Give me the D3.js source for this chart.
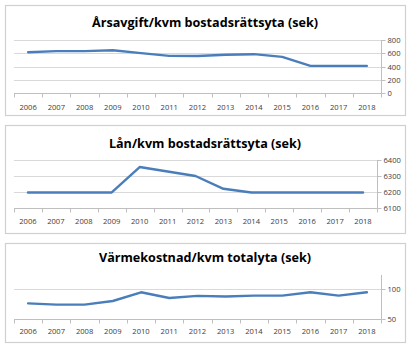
<!DOCTYPE html>
<html><head><meta charset="utf-8">
<script src="https://cdn.jsdelivr.net/npm/d3@7"></script>
<style>body{margin:0;background:#fff}svg{display:block}</style>
</head><body>
<svg id="c" width="414" height="351"></svg>
<script>
const years = ["2006","2007","2008","2009","2010","2011","2012","2013","2014","2015","2016","2017","2018"];
const titles = ["Årsavgift/kvm bostadsrättsyta (sek)", "Lån/kvm bostadsrättsyta (sek)", "Värmekostnad/kvm totalyta (sek)"];
const arsavgift = [616, 632, 632, 646, 602, 560, 558, 578, 586, 546, 410, 410, 410];
const lan = [6197, 6197, 6197, 6197, 6356, 6328, 6300, 6220, 6197, 6197, 6197, 6197, 6197];
const varme = [76, 74, 74, 80, 94.5, 85, 88.5, 87.5, 89, 89, 94.5, 89, 94.5];
const ticks1 = [0, 200, 400, 600, 800];
const ticks2 = [6100, 6200, 6300, 6400];
const ticks3 = [50, 100];

const svg = d3.select("#c");
const font = "'Open Sans', 'DejaVu Sans', sans-serif";

const configs = [
  {title: titles[0], data: arsavgift, ticks: ticks1, dom: [0, 800], box: [5, 5, 405, 115], px: [14, 381], py: [93, 40], top: 40, titleY: 22, labY: 107},
  {title: titles[1], data: lan, ticks: ticks2, dom: [6100, 6400], box: [5, 125, 405, 233], px: [14, 377], py: [208, 160], top: 160, titleY: 143, labY: 221},
  {title: titles[2], data: varme, ticks: ticks3, dom: [50, 100], box: [5, 243, 405, 342], px: [14, 381], py: [319, 289], top: 275, titleY: 257, labY: 331}
];

configs.forEach(cfg => {
  const g = svg.append("g");
  const [bx0, by0, bx1, by1] = cfg.box;
  g.append("rect").attr("x", bx0 + 0.5).attr("y", by0 + 0.5)
    .attr("width", bx1 - bx0).attr("height", by1 - by0)
    .attr("fill", "#fff").attr("stroke", "#d0d0d0").attr("stroke-width", 1.2);

  g.append("text").attr("x", (bx0 + bx1) / 2).attr("y", cfg.titleY)
    .attr("text-anchor", "middle").attr("dominant-baseline", "central")
    .attr("font-family", font).attr("font-weight", "bold").attr("font-size", 12.6)
    .attr("fill", "#000").text(cfg.title);

  const x = d3.scaleBand().domain(years).range(cfg.px);
  const y = d3.scaleLinear().domain(cfg.dom).range(cfg.py);

  g.selectAll(".grid").data(cfg.ticks.filter(t => t !== cfg.dom[0])).join("line")
    .attr("x1", cfg.px[0]).attr("x2", cfg.px[1])
    .attr("y1", d => Math.round(y(d)) + 0.5).attr("y2", d => Math.round(y(d)) + 0.5)
    .attr("stroke", "#d9d9d9").attr("stroke-width", 1);

  const xb = Math.round(y(cfg.dom[0])) + 0.5;
  g.append("line").attr("x1", cfg.px[0]).attr("x2", cfg.px[1])
    .attr("y1", xb).attr("y2", xb).attr("stroke", "#bfbfbf");
  const bounds = years.map(d => x(d)).concat([cfg.px[1]]);
  g.selectAll(".xt").data(bounds).join("line")
    .attr("x1", d => Math.round(d) + 0.5).attr("x2", d => Math.round(d) + 0.5)
    .attr("y1", xb).attr("y2", xb + 4).attr("stroke", "#bfbfbf");
  g.selectAll(".xl").data(years).join("text")
    .attr("x", d => x(d) + x.bandwidth() / 2).attr("y", cfg.labY)
    .attr("text-anchor", "middle").attr("dominant-baseline", "central")
    .attr("font-family", font).attr("font-size", 7.6).attr("fill", "#404040")
    .text(d => d);

  const ax = Math.round(cfg.px[1]) + 0.5;
  g.append("line").attr("x1", ax).attr("x2", ax)
    .attr("y1", cfg.top).attr("y2", xb).attr("stroke", "#bfbfbf");
  g.selectAll(".yt").data(cfg.ticks).join("line")
    .attr("x1", ax).attr("x2", ax + 4)
    .attr("y1", d => Math.round(y(d)) + 0.5).attr("y2", d => Math.round(y(d)) + 0.5)
    .attr("stroke", "#bfbfbf");
  g.selectAll(".yl").data(cfg.ticks).join("text")
    .attr("x", ax + 6).attr("y", d => y(d))
    .attr("dominant-baseline", "central")
    .attr("font-family", font).attr("font-size", 7.6).attr("fill", "#404040")
    .text(d => d);

  const line = d3.line().x((d, i) => x(years[i]) + x.bandwidth() / 2).y(d => y(d));
  g.append("path").datum(cfg.data).attr("d", line)
    .attr("fill", "none").attr("stroke", "#4a7ebb").attr("stroke-width", 2.4)
    .attr("stroke-linejoin", "round").attr("stroke-linecap", "round");
});
</script>
</body></html>
